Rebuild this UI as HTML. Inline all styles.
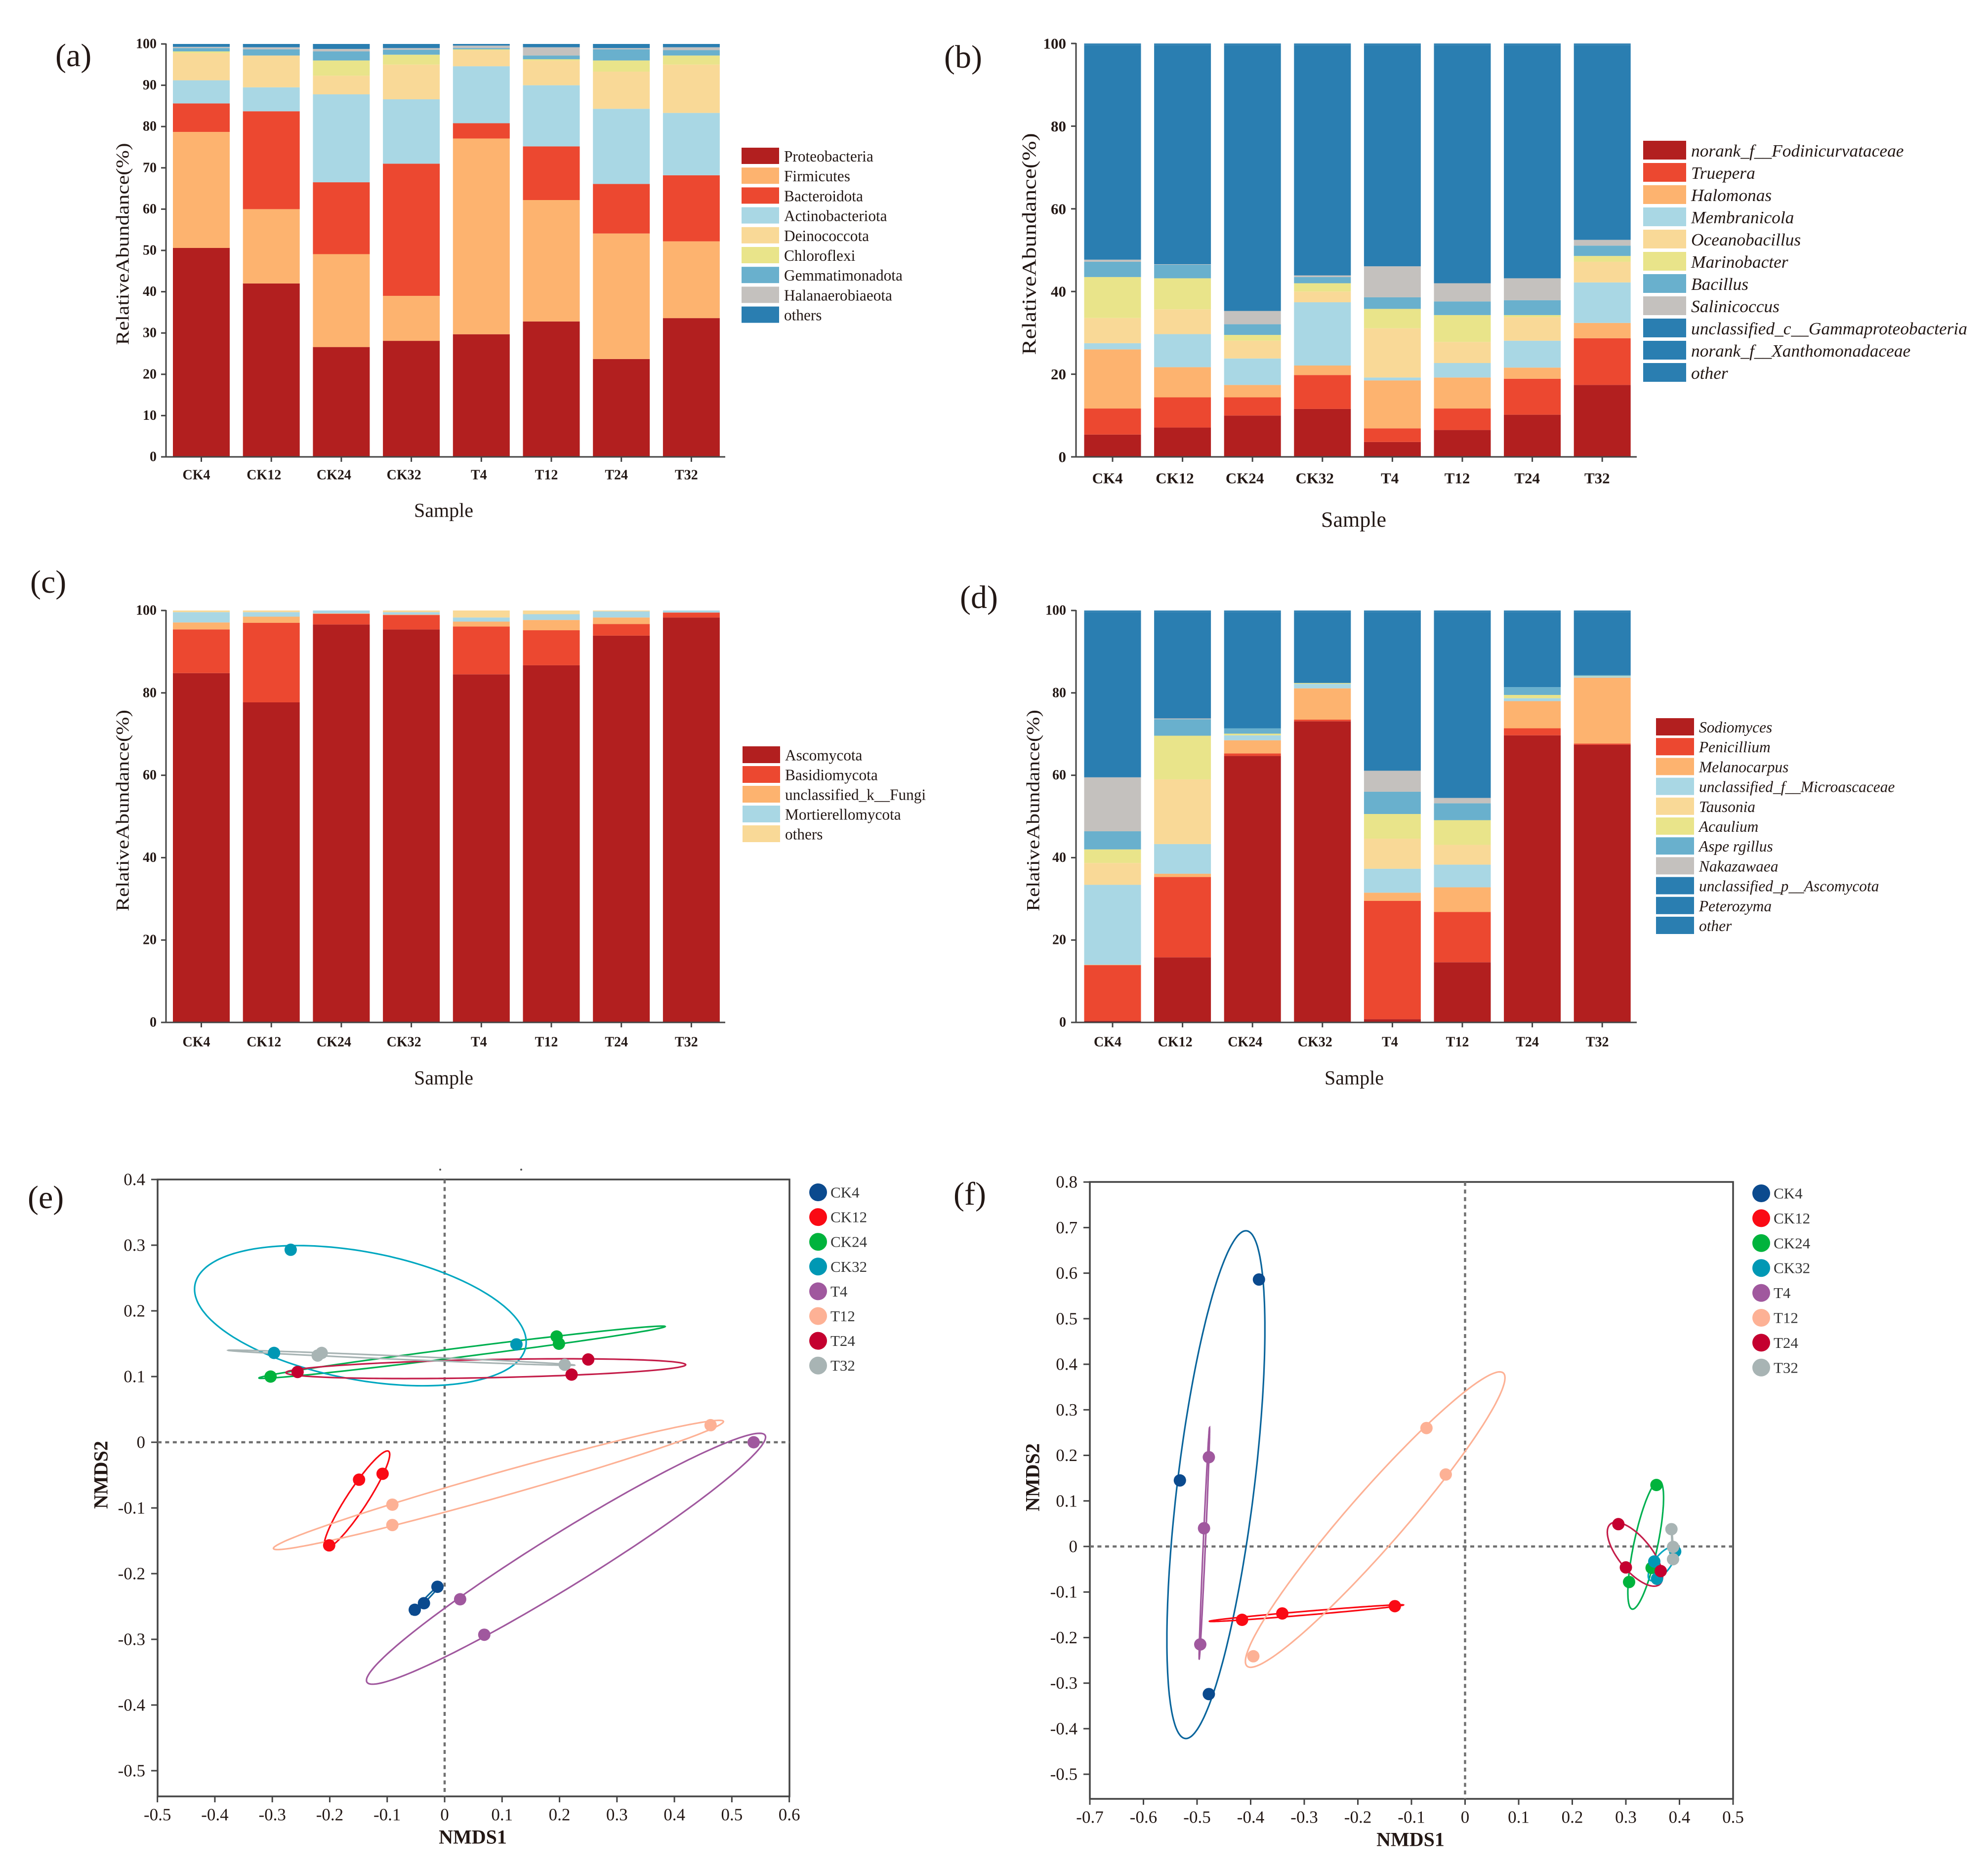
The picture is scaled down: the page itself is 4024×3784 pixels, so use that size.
<!DOCTYPE html>
<html lang="en">
<head>
<meta charset="utf-8">
<title>Relative abundance and NMDS panels</title>
<style>
html,body{margin:0;padding:0;background:#fff;}
svg{display:block;font-family:"Liberation Serif",serif;}
text{fill:#231815;}
</style>
</head>
<body>
<svg id="figure" xmlns="http://www.w3.org/2000/svg" width="4024" height="3784" viewBox="0 0 4024 3784">
  <rect x="0" y="0" width="4024" height="3784" fill="#ffffff"/>

  <text x="112" y="134" font-size="66">(a)</text>
  <text x="1911" y="137" font-size="66">(b)</text>
  <text x="61" y="1200" font-size="66">(c)</text>
  <text x="1943" y="1231" font-size="66">(d)</text>
  <text x="56" y="2446" font-size="66">(e)</text>
  <text x="1930" y="2439" font-size="66">(f)</text>

  <text transform="translate(249 494) rotate(-90)" text-anchor="middle" dominant-baseline="central" font-size="37" textLength="409" lengthAdjust="spacingAndGlyphs">RelativeAbundance(%)</text>
  <text transform="translate(2083 494) rotate(-90)" text-anchor="middle" dominant-baseline="central" font-size="40" textLength="449" lengthAdjust="spacingAndGlyphs">RelativeAbundance(%)</text>
  <text transform="translate(249 1641) rotate(-90)" text-anchor="middle" dominant-baseline="central" font-size="37" textLength="408" lengthAdjust="spacingAndGlyphs">RelativeAbundance(%)</text>
  <text transform="translate(2092 1641) rotate(-90)" text-anchor="middle" dominant-baseline="central" font-size="37" textLength="408" lengthAdjust="spacingAndGlyphs">RelativeAbundance(%)</text>

  <text x="898" y="1033" text-anchor="middle" dominant-baseline="central" font-size="40">Sample</text>
  <text x="2740" y="1052" text-anchor="middle" dominant-baseline="central" font-size="44">Sample</text>
  <text x="898" y="2182" text-anchor="middle" dominant-baseline="central" font-size="40">Sample</text>
  <text x="2741" y="2182" text-anchor="middle" dominant-baseline="central" font-size="40">Sample</text>

  <text x="957" y="3719" text-anchor="middle" dominant-baseline="central" font-size="40" font-weight="bold">NMDS1</text>
  <text transform="translate(204 2986) rotate(-90)" text-anchor="middle" dominant-baseline="central" font-size="40" font-weight="bold">NMDS2</text>
  <text x="2855" y="3724" text-anchor="middle" dominant-baseline="central" font-size="40" font-weight="bold">NMDS1</text>
  <text transform="translate(2090 2991) rotate(-90)" text-anchor="middle" dominant-baseline="central" font-size="40" font-weight="bold">NMDS2</text>

  <circle cx="891" cy="2368" r="2" fill="#555"/>
  <circle cx="1055" cy="2368" r="2" fill="#555"/>
</svg>

<script>
const samples = ["CK4","CK12","CK24","CK32","T4","T12","T24","T32"];

const ticksA = [0,10,20,30,40,50,60,70,80,90,100];
const ticksOther = [0,20,40,60,80,100];

/* Panel (a) */
const namesA = ["Proteobacteria","Firmicutes","Bacteroidota","Actinobacteriota","Deinococcota","Chloroflexi","Gemmatimonadota","Halanaerobiaeota","others"];
const aProteobacteria = [50.6,42,26.6,28.1,29.7,32.8,23.7,33.6];
const aFirmicutes = [28.1,18,22.5,10.9,47.4,29.4,30.4,18.6];
const aBacteroidota = [6.9,23.7,17.4,32,3.7,13,12,16];
const aActinobacteriota = [5.6,5.8,21.3,15.6,13.8,14.8,18.2,15.1];
const aDeinococcota = [6.6,7.7,4.5,8.4,3.9,6,9,11.7];
const aChloroflexi = [0.4,0,3.7,2.4,0.2,0.3,2.7,2.2];
const aGemmatimonadota = [0.8,1.5,2.2,1.2,0.3,0.9,2.7,1.3];
const aHalanaerobiaeota = [0.3,0.5,0.6,0.4,0.6,2,0.3,0.7];
const aOthers = [0.7,0.8,1.2,1,0.4,0.8,1,0.8];

/* Panel (b) */
const namesB = ["norank_f__Fodinicurvataceae","Truepera","Halomonas","Membranicola","Oceanobacillus","Marinobacter","Bacillus","Salinicoccus","unclassified_c__Gammaproteobacteria","norank_f__Xanthomonadaceae","other"];
const bFodinicurvataceae = [5.4,7.1,10,11.6,3.6,6.5,10.2,17.4];
const bTruepera = [6.3,7.3,4.4,8.2,3.3,5.2,8.7,11.3];
const bHalomonas = [14.3,7.3,3,2.3,11.6,7.5,2.7,3.7];
const bMembranicola = [1.5,8,6.4,15.3,0.7,3.5,6.5,9.8];
const bOceanobacillus = [6.1,6,4.3,2.6,11.9,5.1,5.7,5];
const bMarinobacter = [9.9,7.5,1.4,2,4.7,6.5,0.5,1.4];
const bBacillus = [3.7,3.3,2.6,1.5,2.8,3.3,3.6,2.5];
const bSalinicoccus = [0.5,0.1,3.2,0.4,7.5,4.4,5.3,1.4];
const bGammaproteobacteria = [51.9,53,64.3,55.7,53.5,57.6,56.4,47.1];
const bXanthomonadaceae = [0.2,0.2,0.2,0.2,0.2,0.2,0.2,0.2];
const bOther = [0.2,0.2,0.2,0.2,0.2,0.2,0.2,0.2];

/* Panel (c) */
const namesC = ["Ascomycota","Basidiomycota","unclassified_k__Fungi","Mortierellomycota","others"];
const cAscomycota = [84.8,77.7,96.6,95.4,84.5,86.7,93.9,98.3];
const cBasidiomycota = [10.6,19.3,2.6,3.5,11.6,8.5,2.8,1.2];
const cUnclassifiedFungi = [1.7,1.5,0.1,0.1,1.2,2.5,1.6,0];
const cMortierellomycota = [2.5,1.1,0.7,0.6,1,1.4,1.5,0.5];
const cOthers = [0.4,0.4,0,0.4,1.7,0.9,0.2,0];

/* Panel (d) */
const namesD = ["Sodiomyces","Penicillium","Melanocarpus","unclassified_f__Microascaceae","Tausonia","Acaulium","Aspe rgillus","Nakazawaea","unclassified_p__Ascomycota","Peterozyma","other"];
const dSodiomyces = [0.4,15.8,64.7,73.1,0.8,14.6,69.7,67.4];
const dPenicillium = [13.5,19.5,0.6,0.4,28.7,12.2,1.7,0.3];
const dMelanocarpus = [0.1,0.8,3.2,7.6,2,6,6.6,16];
const dMicroascaceae = [19.4,7.2,1.2,1.1,5.8,5.5,0.7,0.3];
const dTausonia = [5.3,15.7,0,0,7.3,4.8,0,0];
const dAcaulium = [3.3,10.6,0.4,0.2,6,6,0.8,0.1];
const dAspergillus = [4.4,4,1.3,0,5.4,4.1,1.9,0.2];
const dNakazawaea = [13.1,0.2,0,0,5.1,1.3,0,0];
const dAscomycota = [40.1,25.8,28.2,17.2,38.5,45.1,18.2,15.3];
const dPeterozyma = [0.2,0.2,0.2,0.2,0.2,0.2,0.2,0.2];
const dOther = [0.2,0.2,0.2,0.2,0.2,0.2,0.2,0.2];

/* Scatter panels */
const groups = ["CK4","CK12","CK24","CK32","T4","T12","T24","T32"];
const xTicksE = [-0.5,-0.4,-0.3,-0.2,-0.1,0,0.1,0.2,0.3,0.4,0.5,0.6];
const yTicksE = [-0.5,-0.4,-0.3,-0.2,-0.1,0,0.1,0.2,0.3,0.4];
const xTicksF = [-0.7,-0.6,-0.5,-0.4,-0.3,-0.2,-0.1,0,0.1,0.2,0.3,0.4,0.5];
const yTicksF = [-0.5,-0.4,-0.3,-0.2,-0.1,0,0.1,0.2,0.3,0.4,0.5,0.6,0.7,0.8];

const eCK4x = [-0.0125,-0.036,-0.052];   const eCK4y = [-0.22,-0.245,-0.255];
const eCK12x = [-0.149,-0.108,-0.201];   const eCK12y = [-0.057,-0.048,-0.157];
const eCK24x = [-0.303,0.195,0.199];     const eCK24y = [0.1,0.161,0.15];
const eCK32x = [-0.268,-0.297,0.125];    const eCK32y = [0.293,0.136,0.149];
const eT4x = [0.538,0.027,0.069];        const eT4y = [0,-0.239,-0.293];
const eT12x = [0.463,-0.091,-0.091];     const eT12y = [0.026,-0.095,-0.126];
const eT24x = [-0.256,0.25,0.221];       const eT24y = [0.107,0.126,0.103];
const eT32x = [-0.214,-0.221,0.209];     const eT32y = [0.136,0.132,0.118];

const fCK4x = [-0.3845,-0.532,-0.478];   const fCK4y = [0.586,0.145,-0.324];
const fCK12x = [-0.416,-0.341,-0.131];   const fCK12y = [-0.161,-0.147,-0.131];
const fCK24x = [0.357,0.306,0.348];      const fCK24y = [0.135,-0.078,-0.047];
const fCK32x = [0.353,0.358,0.392];      const fCK32y = [-0.033,-0.071,-0.011];
const fT4x = [-0.478,-0.487,-0.494];     const fT4y = [0.196,0.04,-0.215];
const fT12x = [-0.072,-0.036,-0.395];    const fT12y = [0.26,0.158,-0.241];
const fT24x = [0.286,0.30,0.365];        const fT24y = [0.049,-0.046,-0.054];
const fT32x = [0.385,0.388,0.388];       const fT32y = [0.038,-0.001,-0.028];

/* Styling */
const stackColors5 = ["#B21F1F","#FDB36F","#EC4830","#A9D7E4","#F9D997","#E9E48A","#69B0CD","#C4C1BE","#2A7EB1"];
const stackColors = ["#B21F1F","#EC4830","#FDB36F","#A9D7E4","#F9D997","#E9E48A","#69B0CD","#C4C1BE","#2A7EB1","#2A7EB1","#2A7EB1"];
const groupColors = ["#0B4A8E","#FA0A14","#00B33C","#0098B4","#A0589E","#FDB195","#C4002F","#A8B4B4"];
const ellipseColors = ["#0A659C","#FA0A14","#00B050","#00A7C0","#A0589E","#FDB195","#C41E4A","#A8B4B4"];

const NS = "http://www.w3.org/2000/svg";
const root = document.getElementById("figure");
function make(tag, parent){
  const el = document.createElementNS(NS, tag);
  (parent || root).appendChild(el);
  return el;
}
function set(el, props){
  for(const k in props){ el.setAttribute(k, props[k]); }
  return el;
}

function drawStackPanel(p){
  const yScale = v => p.y0 - v * (p.y0 - p.y100) / 100;
  const xScale = i => p.x0 + i * p.step;
  const g = make("g");
  
  

  samples.forEach((s, i) => {
    let acc = 0;
    p.values.forEach((series, k) => {
      const v = series[i];
      if(v <= 0){ return; }
      const r = make("rect", g);
      
      
      set(r, {x: xScale(i) - p.barW / 2, y: yScale(acc + v), width: p.barW, height: yScale(acc) - yScale(acc + v), fill: p.colors[k]});
      acc += v;
    });
  });

  const yAxis = make("line", g);
  
  
  set(yAxis, {x1: p.axisX, x2: p.axisX, y1: yScale(100) - 1, y2: yScale(0), stroke: "#444", "stroke-width": 3});

  const xAxis = make("line", g);
  
  
  set(xAxis, {x1: p.axisX - 10, x2: p.axisEnd, y1: yScale(0), y2: yScale(0), stroke: "#444", "stroke-width": 3});

  p.ticks.forEach(t => {
    const m = make("line", g);
    
    
    set(m, {x1: p.axisX - 10, x2: p.axisX, y1: yScale(t), y2: yScale(t), stroke: "#444", "stroke-width": 3});
    const l = make("text", g);
    
    
    set(l, {x: p.yLabelX, y: yScale(t), "text-anchor": "end", "dominant-baseline": "central", "font-size": p.tickSize, "font-weight": "bold"});
    l.textContent = String(t);
  });

  samples.forEach((s, i) => {
    const m = make("line", g);
    
    
    set(m, {x1: xScale(i), x2: xScale(i), y1: yScale(0), y2: yScale(0) + 10, stroke: "#444", "stroke-width": 3});
    const l = make("text", g);
    
    
    set(l, {x: xScale(i) - p.labelShift * (s.length - 1), y: p.xLabelY, "text-anchor": "middle", "dominant-baseline": "central", "font-size": p.xTickSize, "font-weight": "bold"});
    l.textContent = s;
  });

  p.names.forEach((n, k) => {
    const sw = make("rect", g);
    
    
    set(sw, {x: p.legX, y: p.legY + k * p.legStep, width: p.legW, height: p.legH, fill: p.colors[k]});
    const t = make("text", g);
    
    
    set(t, {x: p.legX + p.legW + 10, y: p.legY + k * p.legStep + p.legH / 2 + 1, "dominant-baseline": "central", "font-size": p.legSize, "font-style": p.italic ? "italic" : "normal"});
    t.textContent = n;
  });
}

function ellipsePath(xs, ys, xScale, yScale){
  const n = xs.length;
  const mx = xs.reduce((a, b) => a + b, 0) / n;
  const my = ys.reduce((a, b) => a + b, 0) / n;
  let sxx = 0, syy = 0, sxy = 0;
  for(let i = 0; i < n; i++){
    sxx += (xs[i] - mx) * (xs[i] - mx);
    syy += (ys[i] - my) * (ys[i] - my);
    sxy += (xs[i] - mx) * (ys[i] - my);
  }
  sxx /= (n - 1); syy /= (n - 1); sxy /= (n - 1);
  const k = Math.sqrt(1.5);
  const l11 = Math.sqrt(sxx);
  const l21 = l11 > 0 ? sxy / l11 : 0;
  const l22 = Math.sqrt(Math.max(syy - l21 * l21, 0));
  let d = "";
  for(let a = 0; a < 180; a++){
    const t = a * Math.PI / 90;
    const c = Math.cos(t), s = Math.sin(t);
    const px = xScale(mx + k * l11 * c);
    const py = yScale(my + k * (l21 * c + l22 * s));
    d += (a ? "L" : "M") + px.toFixed(1) + " " + py.toFixed(1);
  }
  return d + "Z";
}

function drawScatterPanel(p){
  const xScale = v => p.x0px + v * p.xUnit;
  const yScale = v => p.y0px - v * p.yUnit;
  const g = make("g");
  
  

  const frame = make("rect", g);
  
  
  set(frame, {x: p.left, y: p.top, width: p.right - p.left, height: p.bottom - p.top, fill: "none", stroke: "#444", "stroke-width": 3.5});

  const zeroH = make("line", g);
  
  
  set(zeroH, {x1: p.left, x2: p.right, y1: yScale(0), y2: yScale(0), stroke: "#707070", "stroke-width": 4.5, "stroke-dasharray": "8 7.4"});

  const zeroV = make("line", g);
  
  
  set(zeroV, {x1: xScale(0), x2: xScale(0), y1: p.top, y2: p.bottom, stroke: "#707070", "stroke-width": 4.5, "stroke-dasharray": "8 7.4"});

  p.xTicks.forEach(t => {
    const m = make("line", g);
    
    
    set(m, {x1: xScale(t), x2: xScale(t), y1: p.bottom, y2: p.bottom + 12, stroke: "#444", "stroke-width": 3});
    const l = make("text", g);
    
    
    set(l, {x: xScale(t), y: p.bottom + 37, "text-anchor": "middle", "dominant-baseline": "central", "font-size": 35});
    l.textContent = String(t);
  });

  p.yTicks.forEach(t => {
    const m = make("line", g);
    
    
    set(m, {x1: p.left - 13, x2: p.left, y1: yScale(t), y2: yScale(t), stroke: "#444", "stroke-width": 3});
    const l = make("text", g);
    
    
    set(l, {x: p.left - 25, y: yScale(t), "text-anchor": "end", "dominant-baseline": "central", "font-size": 35});
    l.textContent = String(t);
  });

  p.series.forEach((s, k) => {
    const e = make("path", g);
    
    
    set(e, {d: ellipsePath(s[0], s[1], xScale, yScale), fill: "none", stroke: ellipseColors[k], "stroke-width": 3.2});
  });

  p.series.forEach((s, k) => {
    s[0].forEach((x, i) => {
      const c = make("circle", g);
      
      
      set(c, {cx: xScale(x), cy: yScale(s[1][i]), r: 12.5, fill: groupColors[k]});
    });
  });

  groups.forEach((n, k) => {
    const c = make("circle", g);
    
    
    set(c, {cx: p.legX, cy: p.legY + k * p.legStep, r: 18, fill: groupColors[k]});
    const t = make("text", g);
    
    
    set(t, {x: p.legX + 25, y: p.legY + k * p.legStep, "dominant-baseline": "central", "font-size": 31, style: "fill:#333"});
    t.textContent = n;
  });
}

drawStackPanel({
  values: [aProteobacteria,aFirmicutes,aBacteroidota,aActinobacteriota,aDeinococcota,aChloroflexi,aGemmatimonadota,aHalanaerobiaeota,aOthers],
  names: namesA, colors: stackColors5, ticks: ticksA,
  x0: 407.5, step: 141.7, barW: 115, y0: 925, y100: 89,
  axisX: 336, axisEnd: 1468, yLabelX: 317, tickSize: 28, xTickSize: 28, xLabelY: 962, labelShift: 5,
  legX: 1501, legY: 299, legW: 76, legH: 33, legStep: 40.2, legSize: 31.3, italic: false
});
drawStackPanel({
  values: [bFodinicurvataceae,bTruepera,bHalomonas,bMembranicola,bOceanobacillus,bMarinobacter,bBacillus,bSalinicoccus,bGammaproteobacteria,bXanthomonadaceae,bOther],
  names: namesB, colors: stackColors, ticks: ticksOther,
  x0: 2252, step: 141.6, barW: 115, y0: 925, y100: 88,
  axisX: 2178, axisEnd: 3313, yLabelX: 2158, tickSize: 31, xTickSize: 31, xLabelY: 968, labelShift: 5.2,
  legX: 3326, legY: 285, legW: 87, legH: 38, legStep: 45, legSize: 35.4, italic: true
});
drawStackPanel({
  values: [cAscomycota,cBasidiomycota,cUnclassifiedFungi,cMortierellomycota,cOthers],
  names: namesC, colors: ["#B21F1F","#EC4830","#FDB36F","#A9D7E4","#F9D997"], ticks: ticksOther,
  x0: 407.5, step: 141.7, barW: 115, y0: 2070, y100: 1236,
  axisX: 336, axisEnd: 1468, yLabelX: 317, tickSize: 28, xTickSize: 28, xLabelY: 2110, labelShift: 5,
  legX: 1503, legY: 1511, legW: 76, legH: 34, legStep: 40, legSize: 31.3, italic: false
});
drawStackPanel({
  values: [dSodiomyces,dPenicillium,dMelanocarpus,dMicroascaceae,dTausonia,dAcaulium,dAspergillus,dNakazawaea,dAscomycota,dPeterozyma,dOther],
  names: namesD, colors: stackColors, ticks: ticksOther,
  x0: 2252, step: 141.6, barW: 115, y0: 2070, y100: 1236,
  axisX: 2178, axisEnd: 3313, yLabelX: 2158, tickSize: 28, xTickSize: 28, xLabelY: 2110, labelShift: 5,
  legX: 3352, legY: 1454, legW: 77, legH: 35, legStep: 40.2, legSize: 31.4, italic: true
});
drawScatterPanel({
  series: [[eCK4x,eCK4y],[eCK12x,eCK12y],[eCK24x,eCK24y],[eCK32x,eCK32y],[eT4x,eT4y],[eT12x,eT12y],[eT24x,eT24y],[eT32x,eT32y]],
  xTicks: xTicksE, yTicks: yTicksE,
  left: 319, right: 1598, top: 2388, bottom: 3637,
  x0px: 900, xUnit: 1162.7, y0px: 2920, yUnit: 1330,
  legX: 1656, legY: 2414, legStep: 50.1
});
drawScatterPanel({
  series: [[fCK4x,fCK4y],[fCK12x,fCK12y],[fCK24x,fCK24y],[fCK32x,fCK32y],[fT4x,fT4y],[fT12x,fT12y],[fT24x,fT24y],[fT32x,fT32y]],
  xTicks: xTicksF, yTicks: yTicksF,
  left: 2206, right: 3508, top: 2393, bottom: 3642,
  x0px: 2965.5, xUnit: 1085, y0px: 3131, yUnit: 922.3,
  legX: 3565, legY: 2416, legStep: 50.4
});
</script>
</body>
</html>
